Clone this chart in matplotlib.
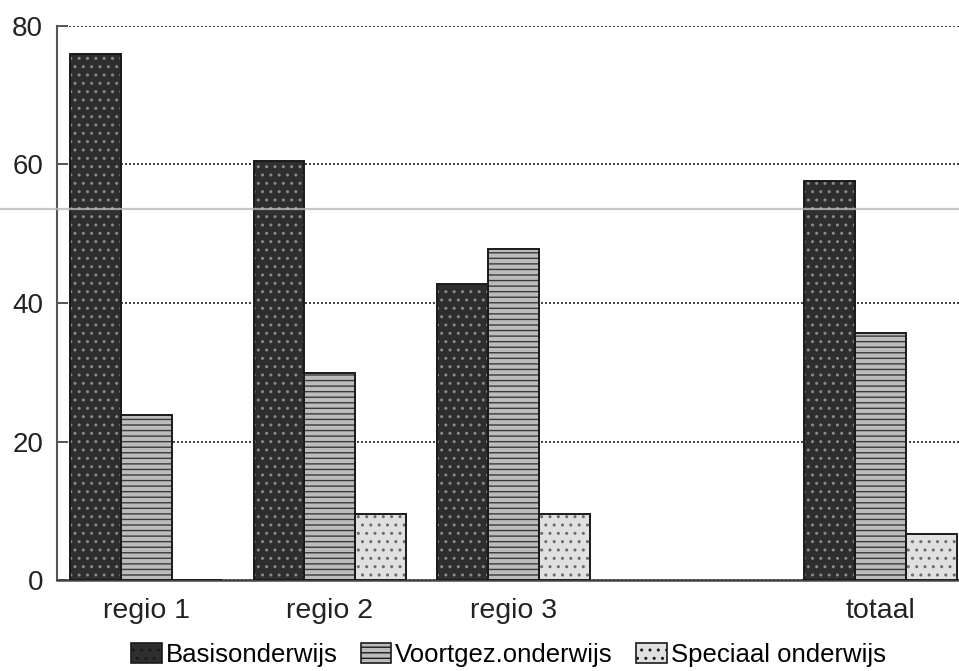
#!/usr/bin/env python3
# Bar chart: share per school type (basis / voortgezet / speciaal) by region.
import numpy as np
import matplotlib
matplotlib.use("Agg")
import matplotlib.pyplot as plt
from matplotlib.lines import Line2D

categories = ["regio 1", "regio 2", "regio 3", "totaal"]
basis = [76.0, 60.5, 42.7, 57.6]
voortgez = [23.8, 29.9, 47.8, 35.7]
speciaal = [0.0, 9.5, 9.5, 6.6]
series_names = ["Basisonderwijs", "Voortgez.onderwijs", "Speciaal onderwijs"]
yticks = [0, 20, 40, 60, 80]

plt.rcParams["font.family"] = ["Liberation Sans", "DejaVu Sans"]

fig = plt.figure(figsize=(9.59, 6.71), dpi=100)
ax = fig.add_axes([0.0594, 0.1356, 0.9406, 0.8257])

# leave an empty slot between the regions and the total
x = np.array([0, 1, 2, 4], dtype=float)
w = 0.277

styles = [
    dict(face="#2e2e2e", hatch="..", hcol="#8a8a8a"),
    dict(face="#bcbcbc", hatch="---", hcol="#3a3a3a"),
    dict(face="#e0e0e0", hatch="..", hcol="#6a6a6a"),
]

handles = []
for i, (vals, st) in enumerate(zip([basis, voortgez, speciaal], styles)):
    xs = x + (i - 1) * w
    ax.bar(xs, vals, w, color=st["face"], edgecolor="none", zorder=3)
    ax.bar(xs, vals, w, color="none", edgecolor=st["hcol"], hatch=st["hatch"],
           linewidth=0, zorder=4)
    ax.bar(xs, vals, w, color="none", edgecolor="#1a1a1a", linewidth=1.4, zorder=5)
    handles.append(plt.Rectangle((0, 0), 1, 1, facecolor=st["face"],
                                 edgecolor="#1a1a1a", hatch=st["hatch"], linewidth=1.2))

ax.set_xlim(-0.486, 4.427)
ax.set_ylim(0, 80)
ax.set_yticks(yticks)
ax.set_xticks(x)
ax.set_xticklabels(categories)

ax.yaxis.grid(True, linestyle=(0, (1.2, 1.2)), color="#222222", linewidth=1.2, zorder=1)
ax.set_axisbelow(True)

for side in ["top", "right"]:
    ax.spines[side].set_visible(False)
ax.spines["left"].set_color("#555555")
ax.spines["left"].set_linewidth(1.5)
ax.spines["bottom"].set_color("#444444")
ax.spines["bottom"].set_linewidth(1.8)

ax.tick_params(axis="y", direction="in", length=8, width=1.4, color="#555555",
               labelsize=20, pad=10, labelcolor="#222222")
ax.tick_params(axis="x", length=0, labelsize=20.5, pad=13, labelcolor="#222222")

fig.legend(handles, series_names, loc="center", bbox_to_anchor=(0.53, 0.024),
           ncol=3, frameon=False, fontsize=18.5, handlelength=1.2, handleheight=0.8,
           handletextpad=0.15, columnspacing=0.9, borderaxespad=0)

# faint horizontal streak across the page
fig.add_artist(Line2D([0, 1], [1 - 209 / 671] * 2, transform=fig.transFigure,
                      color="#b8b8b8", linewidth=1.6, alpha=0.8, zorder=10))

fig.savefig("out.png", dpi=100)
